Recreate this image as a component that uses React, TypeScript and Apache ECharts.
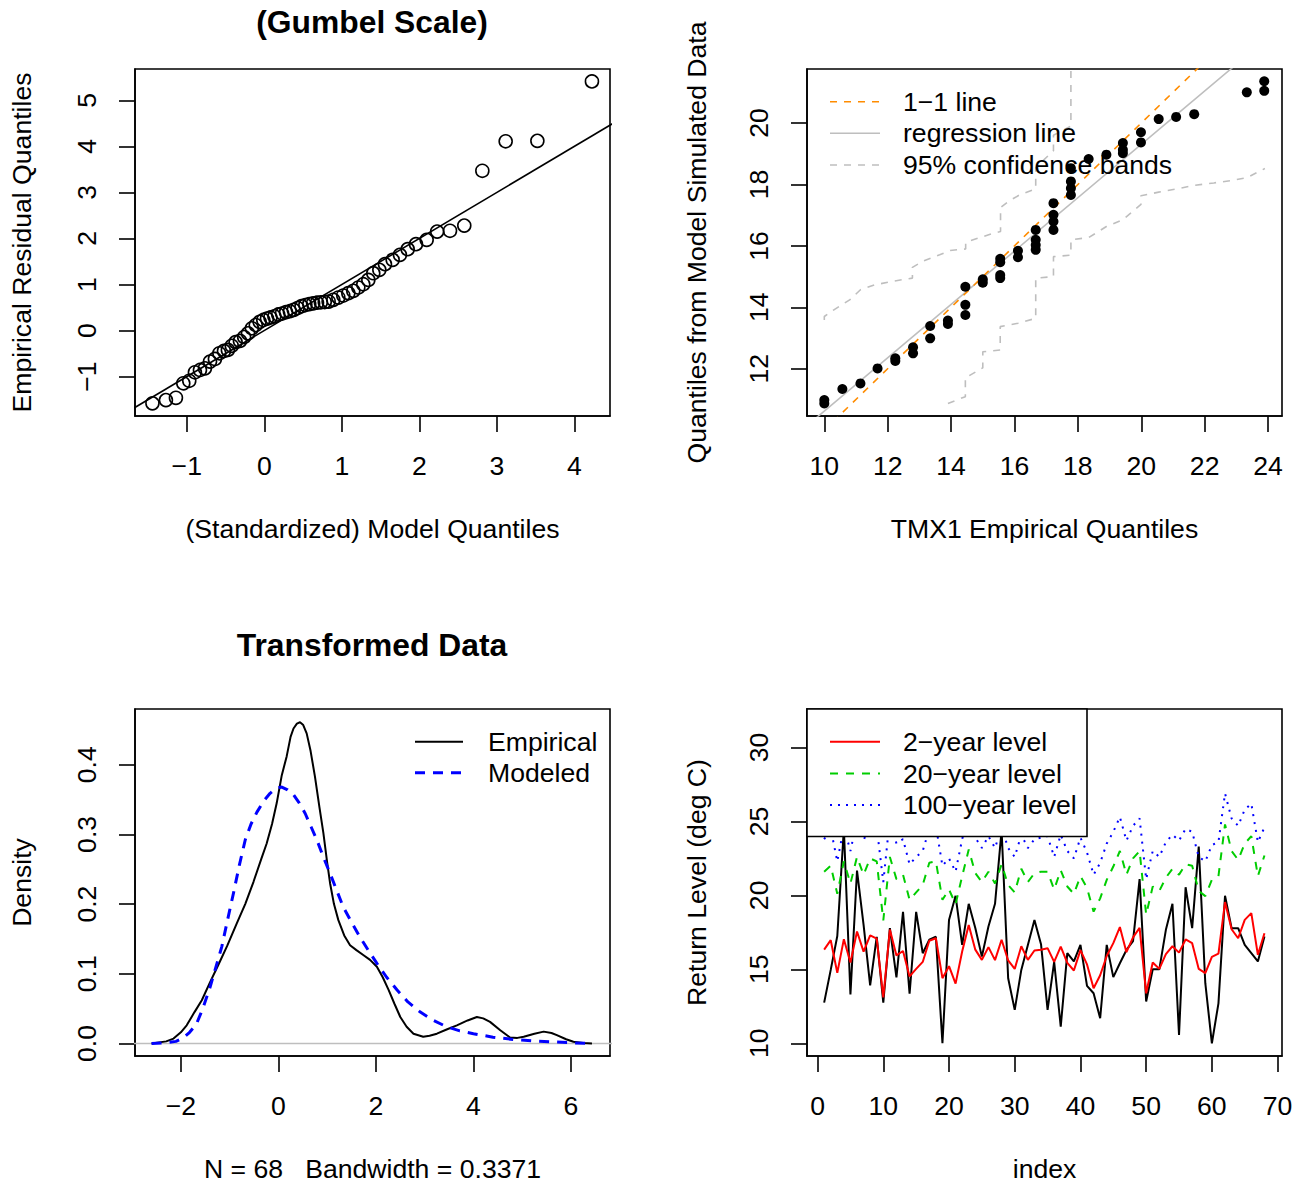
import React, { useEffect, useRef } from "react";
import * as echarts from "echarts";

const FONT = '"Liberation Sans", Arial, Helvetica, sans-serif';
const FS = 26.6;

// ---------- Panel 1: Gumbel-scale QQ plot ----------
const p1Ticks = { x: [-1, 0, 1, 2, 3, 4], y: [-1, 0, 1, 2, 3, 4, 5] };
const p1Range = { x: [-1.668, 4.46], y: [-1.855, 5.68] };
const modelQuantiles = [
  -1.443, -1.269, -1.14, -1.045, -0.968, -0.895, -0.83, -0.766, -0.7, -0.637, -0.58, -0.52,
  -0.47, -0.42, -0.37, -0.314, -0.26, -0.21, -0.16, -0.11, -0.06, -0.013,
  0.035, 0.08, 0.13, 0.18, 0.23, 0.28, 0.33, 0.38, 0.43, 0.48, 0.53, 0.58, 0.63, 0.68, 0.73, 0.78, 0.83,
  0.89, 0.955, 1.019, 1.084, 1.148, 1.213, 1.277, 1.342, 1.406,
  1.484, 1.557, 1.656, 1.75, 1.85, 1.957, 2.095, 2.23, 2.396, 2.58,
  2.813, 3.114, 3.523, 4.227,
];
const residualQuantiles = [
  -1.58, -1.51, -1.46, -1.145, -1.09, -0.906, -0.855, -0.82, -0.674, -0.616, -0.493, -0.442,
  -0.42, -0.33, -0.25, -0.225, -0.14, -0.06, 0.05, 0.12, 0.19, 0.23,
  0.26, 0.285, 0.31, 0.35, 0.37, 0.4, 0.42, 0.45, 0.49, 0.53, 0.555, 0.575, 0.59, 0.605, 0.615, 0.62, 0.63,
  0.667, 0.717, 0.761, 0.812, 0.862, 0.935, 1.007, 1.1, 1.246,
  1.319, 1.442, 1.536, 1.645, 1.768, 1.877, 1.97, 2.15, 2.167, 2.28,
  3.47, 4.11, 4.12, 5.41,
];

// ---------- Panel 2: TMX1 empirical vs model simulated ----------
const p2Ticks = { x: [10, 12, 14, 16, 18, 20, 22, 24], y: [12, 14, 16, 18, 20] };
const p2Range = { x: [9.454, 24.44], y: [10.46, 21.76] };
const empQ = [
  10.0, 10.0, 10.57, 11.14, 11.68, 12.24, 12.24, 12.8, 12.8, 13.34, 13.34, 13.9, 13.9,
  14.45, 14.45, 14.45, 15.0, 15.0, 15.55, 15.55, 15.55, 15.55, 16.11, 16.11,
  16.67, 16.67, 16.67, 16.67, 17.23, 17.23, 17.23, 17.23, 17.78, 17.78, 17.78, 17.78,
  18.34, 18.9, 19.42, 19.42, 19.42, 19.99, 19.99, 20.55, 21.1, 21.67, 23.33, 23.88, 23.88,
];
const simQ = [
  10.98, 10.87, 11.34, 11.52, 12.01, 12.34, 12.25, 12.7, 12.5, 13.39, 12.99, 13.57, 13.46,
  14.67, 14.08, 13.75, 14.91, 14.8, 15.58, 15.47, 15.05, 14.95, 15.84, 15.63,
  16.52, 16.2, 16.03, 15.87, 17.39, 17.01, 16.79, 16.52, 18.53, 18.1, 17.88, 17.66,
  18.83, 18.97, 19.35, 19.13, 19.02, 19.7, 19.37, 20.13, 20.2, 20.29, 21.0, 21.36, 21.05,
];
const oneToOne = [[9.0, 9.0], [25.0, 25.0]];
const regressionLine = [[9.0, 9.75], [25.0, 23.65]];
const upperBand = [
  [10.0, 13.59], [10.0, 13.7], [10.29, 13.91], [10.8, 14.24], [11.14, 14.57], [11.59, 14.73],
  [12.17, 14.85], [12.78, 14.95], [12.78, 15.3], [13.13, 15.51], [13.64, 15.71], [13.97, 15.85],
  [14.46, 15.9], [14.46, 16.12], [15.0, 16.3], [15.27, 16.39], [15.56, 16.47], [15.56, 17.25],
  [15.81, 17.45], [16.16, 17.66], [16.67, 17.86], [16.67, 18.55], [17.23, 19.1], [17.23, 19.6],
  [17.78, 19.9], [17.78, 23.0],
];
const lowerBand = [
  [13.9, 10.87], [14.45, 11.09], [14.45, 11.7], [15.0, 12.03], [15.0, 12.55], [15.55, 12.61],
  [15.55, 13.37], [16.11, 13.48], [16.67, 13.64], [16.67, 14.95], [17.23, 15.0], [17.23, 15.65],
  [17.78, 15.7], [17.78, 16.2], [18.34, 16.27], [18.9, 16.63], [19.42, 16.85], [19.99, 17.35],
  [19.99, 17.63], [20.55, 17.75], [21.1, 17.85], [21.65, 17.97], [22.29, 18.05], [22.8, 18.12],
  [23.33, 18.22], [23.9, 18.52],
];

// ---------- Panel 3: Transformed data densities ----------
const p3Ticks = { x: [-2, 0, 2, 4, 6], y: [0, 0.1, 0.2, 0.3, 0.4] };
const p3Range = { x: [-2.94, 6.8], y: [-0.018, 0.48] };
const empiricalDensity = [
  [-2.6, 0.0], [-2.3, 0.003], [-2.15, 0.007], [-2.0, 0.016], [-1.88, 0.026], [-1.72, 0.045],
  [-1.57, 0.062], [-1.4, 0.088], [-1.23, 0.113], [-1.05, 0.14], [-0.855, 0.172], [-0.68, 0.2],
  [-0.51, 0.232], [-0.35, 0.265], [-0.24, 0.287], [-0.13, 0.315], [-0.034, 0.345], [0.07, 0.385],
  [0.17, 0.412], [0.25, 0.44], [0.31, 0.452], [0.38, 0.459], [0.444, 0.461], [0.51, 0.457],
  [0.58, 0.445], [0.66, 0.42], [0.75, 0.383], [0.84, 0.34], [0.923, 0.302], [1.0, 0.26],
  [1.06, 0.23], [1.14, 0.2], [1.23, 0.177], [1.35, 0.155], [1.47, 0.141], [1.6, 0.134],
  [1.74, 0.127], [1.88, 0.12], [2.02, 0.11], [2.14, 0.095], [2.26, 0.077], [2.38, 0.057],
  [2.5, 0.038], [2.63, 0.024], [2.77, 0.014], [2.97, 0.0096], [3.1, 0.011], [3.25, 0.014],
  [3.45, 0.02], [3.66, 0.026], [3.88, 0.033], [4.07, 0.038], [4.2, 0.036], [4.34, 0.031],
  [4.55, 0.019], [4.75, 0.0086], [4.9, 0.008], [5.03, 0.0096], [5.25, 0.014], [5.44, 0.017],
  [5.6, 0.015], [5.71, 0.012], [5.9, 0.006], [6.05, 0.0024], [6.25, 0.0006], [6.43, 0.0],
];
const modeledDensity = [
  [-2.6, 0.0], [-2.3, 0.001], [-2.1, 0.003], [-1.95, 0.008], [-1.82, 0.016], [-1.68, 0.028],
  [-1.55, 0.05], [-1.4, 0.081], [-1.28, 0.11], [-1.16, 0.139], [-1.04, 0.178], [-0.92, 0.216],
  [-0.8, 0.256], [-0.68, 0.292], [-0.56, 0.315], [-0.44, 0.332], [-0.3, 0.348], [-0.17, 0.359],
  [-0.05, 0.366], [0.07, 0.368], [0.19, 0.364], [0.31, 0.357], [0.43, 0.345], [0.55, 0.33],
  [0.67, 0.311], [0.79, 0.292], [0.92, 0.268], [1.06, 0.244], [1.2, 0.219], [1.33, 0.196],
  [1.5, 0.174], [1.67, 0.153], [1.85, 0.133], [2.02, 0.115], [2.22, 0.095], [2.43, 0.077],
  [2.65, 0.06], [2.91, 0.045], [3.18, 0.033], [3.45, 0.024], [3.72, 0.018], [4.0, 0.014],
  [4.4, 0.009], [4.82, 0.0057], [5.2, 0.0037], [5.57, 0.0024], [6.0, 0.001], [6.43, 0.0],
];
const zeroLine = [[-4, 0], [8, 0]];

// ---------- Panel 4: return levels by index ----------
const p4Ticks = { x: [0, 10, 20, 30, 40, 50, 60, 70], y: [10, 15, 20, 25, 30] };
const p4Range = { x: [-1.61, 70.67], y: [9.14, 32.6] };
const observed = [
  12.75, 14.96, 17.25, 24.5, 13.3, 21.68, 18.0, 13.92, 17.2, 12.75,
  17.78, 14.45, 18.88, 13.35, 18.88, 16.09, 17.0, 17.2, 10.0, 18.34,
  19.97, 16.65, 19.43, 17.8, 15.86, 17.9, 19.43, 24.4, 14.4, 12.26,
  14.96, 16.65, 18.34, 16.7, 12.26, 15.5, 11.13, 16.09, 15.53, 16.65,
  13.88, 13.38, 11.69, 16.65, 14.47, 15.41, 16.31, 16.9, 21.1, 12.82,
  15.0, 15.0, 17.67, 19.43, 10.56, 20.55, 17.78, 23.3, 14.06, 10.0,
  12.7, 19.97, 17.78, 17.78, 16.65, 16.09, 15.53, 17.22,
];
const level2 = [
  16.33, 16.97, 14.76, 17.04, 15.46, 17.56, 16.2, 17.3, 17.07, 13.1,
  17.69, 15.94, 16.24, 14.52, 15.03, 15.5, 16.93, 17.1, 14.4, 15.21,
  14.03, 16.2, 18.0, 16.33, 15.64, 16.5, 15.62, 17.0, 15.6, 15.03,
  16.56, 15.64, 16.27, 16.33, 16.43, 15.5, 16.54, 15.43, 14.92, 16.3,
  15.33, 13.72, 14.6, 15.9, 16.77, 17.86, 16.16, 17.16, 17.8, 13.38,
  15.46, 15.03, 16.03, 16.56, 16.13, 17.02, 16.77, 15.03, 14.74, 15.84,
  16.06, 19.55, 17.71, 17.1, 18.34, 18.8, 15.98, 17.44,
];
const level20 = [
  21.6, 22.0, 20.1, 22.3, 20.8, 22.6, 21.4, 22.5, 22.3, 18.3,
  22.6, 21.1, 21.4, 19.7, 20.2, 20.7, 22.2, 22.3, 19.7, 20.4,
  19.4, 21.3, 23.1, 21.5, 20.9, 21.6, 20.8, 22.1, 20.7, 20.2,
  21.8, 20.9, 21.5, 21.6, 21.6, 20.4, 21.7, 20.6, 20.1, 21.3,
  20.5, 18.9, 19.8, 21.05, 21.95, 23.0, 21.4, 22.5, 23.0, 18.7,
  20.6, 20.3, 21.2, 21.8, 21.4, 22.1, 22.0, 20.3, 19.95, 21.05,
  21.3, 24.8, 23.0, 22.4, 23.5, 24.0, 21.3, 22.7,
];
const level100 = [
  23.8, 24.5, 22.3, 24.6, 23.0, 25.1, 23.7, 24.9, 24.6, 20.9,
  25.2, 23.5, 23.8, 22.1, 22.6, 23.0, 24.5, 24.7, 22.0, 22.5,
  21.6, 23.8, 25.6, 23.9, 23.2, 24.0, 23.2, 24.6, 23.2, 22.6,
  24.1, 23.2, 23.8, 23.9, 24.0, 22.6, 24.1, 23.0, 22.5, 23.9,
  22.9, 21.4, 22.2, 23.5, 24.3, 25.3, 23.7, 24.7, 25.2, 21.1,
  23.0, 22.6, 23.6, 24.1, 23.7, 24.5, 24.3, 22.6, 22.3, 23.4,
  23.6, 26.9, 25.2, 24.7, 25.8, 26.2, 23.6, 24.6,
];

const minus = (v: number) => String(v).replace("-", "\u2212");
const oneDec = (v: number) => v.toFixed(1);

const GRIDS = [
  { left: 135, top: 69, width: 475, height: 347 },
  { left: 807, top: 69, width: 475, height: 347 },
  { left: 135, top: 709, width: 475, height: 347 },
  { left: 807, top: 709, width: 475, height: 347 },
];

const textStyle = { fontSize: FS, color: "#000", fontFamily: FONT };

function xAx(gi: number, range: number[], ticks: number[], name: string, gap: number, f = minus) {
  return {
    type: "value", gridIndex: gi, min: range[0], max: range[1], position: "bottom",
    axisLine: { show: true, onZero: false, lineStyle: { color: "#000", width: 1.6 } },
    axisTick: { show: true, inside: false, length: 16, customValues: ticks, lineStyle: { color: "#000", width: 1.6 } },
    axisLabel: { show: true, customValues: ticks, margin: 36, formatter: f, ...textStyle },
    splitLine: { show: false },
    name, nameLocation: "middle", nameGap: gap, nameTextStyle: textStyle,
  };
}
function yAx(gi: number, range: number[], ticks: number[], name: string, gap: number, f = minus) {
  return {
    type: "value", gridIndex: gi, min: range[0], max: range[1], position: "left",
    axisLine: { show: true, onZero: false, lineStyle: { color: "#000", width: 1.6 } },
    axisTick: { show: true, inside: false, length: 16, customValues: ticks, lineStyle: { color: "#000", width: 1.6 } },
    axisLabel: { show: true, customValues: ticks, margin: 35, rotate: 90, formatter: f, ...textStyle },
    splitLine: { show: false },
    name, nameLocation: "middle", nameGap: gap, nameRotate: 90, nameTextStyle: textStyle,
  };
}

function lineS(gi: number, data: number[][], color: string, width: number, type: any, z = 2) {
  return {
    type: "line", xAxisIndex: gi, yAxisIndex: gi, data, symbol: "none", silent: true, z,
    lineStyle: { color, width, type }, clip: true,
  };
}

function legendItems(x1: number, x2: number, tx: number, ys: number[], items: any[]) {
  const out: any[] = [];
  items.forEach((it, k) => {
    out.push({
      type: "line", z: 101, silent: true,
      shape: { x1, y1: ys[k], x2, y2: ys[k] },
      style: { stroke: it.color, lineWidth: it.width, lineDash: it.dash || null },
    });
    out.push({
      type: "text", z: 101, silent: true, x: tx, y: ys[k],
      style: { text: it.label, fill: "#000", font: `${FS}px ${FONT}`, textVerticalAlign: "middle", verticalAlign: "middle" },
    });
  });
  return out;
}

export default function App() {
  const ref = useRef<HTMLDivElement>(null);
  useEffect(() => {
    if (!ref.current) return;
    const chart = echarts.init(ref.current, null, { renderer: "svg" });
    const idx = observed.map((_, k) => k + 1);
    const qq1 = modelQuantiles.map((x, k) => [x, residualQuantiles[k]]);
    const qq2 = empQ.map((x, k) => [x, simQ[k]]);
    const diag1 = [[p1Range.x[0] - 1, p1Range.x[0] - 1], [p1Range.x[1] + 1, p1Range.x[1] + 1]];
    const option: any = {
      animation: false,
      backgroundColor: "#fff",
      grid: GRIDS.map((g) => ({ ...g, show: true, borderColor: "#000", borderWidth: 1.6, backgroundColor: "transparent" })),
      xAxis: [
        xAx(0, p1Range.x, p1Ticks.x, "(Standardized) Model Quantiles", 99),
        xAx(1, p2Range.x, p2Ticks.x, "TMX1 Empirical Quantiles", 99),
        xAx(2, p3Range.x, p3Ticks.x, "N = 68   Bandwidth = 0.3371", 99),
        xAx(3, p4Range.x, p4Ticks.x, "index", 99),
      ],
      yAxis: [
        yAx(0, p1Range.y, p1Ticks.y, "Empirical Residual Quantiles", 100),
        yAx(1, p2Range.y, p2Ticks.y, "Quantiles from Model Simulated Data", 97),
        yAx(2, p3Range.y, p3Ticks.y, "Density", 100, oneDec),
        yAx(3, p4Range.y, p4Ticks.y, "Return Level (deg C)", 97),
      ],
      series: [
        // panel 1
        lineS(0, diag1, "#000", 1.6, "solid"),
        {
          type: "scatter", xAxisIndex: 0, yAxisIndex: 0, data: qq1, symbol: "circle", symbolSize: 13, silent: true,
          itemStyle: { color: "rgba(0,0,0,0)", borderColor: "#000", borderWidth: 1.6, opacity: 1 }, z: 3,
        },
        // panel 2
        lineS(1, upperBand, "#BEBEBE", 1.6, [7, 7]),
        lineS(1, lowerBand, "#BEBEBE", 1.6, [7, 7]),
        lineS(1, regressionLine, "#BEBEBE", 1.6, "solid"),
        lineS(1, oneToOne, "#FF8C00", 1.6, [7, 7]),
        {
          type: "scatter", xAxisIndex: 1, yAxisIndex: 1, data: qq2, symbol: "circle", symbolSize: 10, silent: true,
          itemStyle: { color: "#000", opacity: 1 }, z: 3,
        },
        // panel 3
        lineS(2, zeroLine, "#BEBEBE", 1.6, "solid"),
        lineS(2, empiricalDensity, "#000", 2, "solid"),
        lineS(2, modeledDensity, "#0000FF", 3, [10, 8]),
        // panel 4
        lineS(3, idx.map((i, k) => [i, observed[k]]), "#000", 2, "solid"),
        lineS(3, idx.map((i, k) => [i, level2[k]]), "#FF0000", 2, "solid"),
        lineS(3, idx.map((i, k) => [i, level20[k]]), "#00CD00", 2, [8, 8]),
        lineS(3, idx.map((i, k) => [i, level100[k]]), "#0000FF", 2, [2, 6]),
      ],
      graphic: [
        {
          type: "text", z: 100, x: 372, y: 22, silent: true,
          style: { text: "(Gumbel Scale)", fill: "#000", font: `bold 31.8px ${FONT}`, textAlign: "center", textVerticalAlign: "middle", align: "center", verticalAlign: "middle" },
        },
        {
          type: "text", z: 100, x: 372, y: 645, silent: true,
          style: { text: "Transformed Data", fill: "#000", font: `bold 31.8px ${FONT}`, textAlign: "center", textVerticalAlign: "middle", align: "center", verticalAlign: "middle" },
        },
        ...legendItems(830, 880, 903, [101.7, 133.3, 165], [
          { label: "1\u22121 line", color: "#FF8C00", width: 1.6, dash: [7, 7] },
          { label: "regression line", color: "#BEBEBE", width: 1.6 },
          { label: "95% confidence bands", color: "#BEBEBE", width: 1.6, dash: [7, 7] },
        ]),
        ...legendItems(415, 463, 488, [741.7, 772.7], [
          { label: "Empirical", color: "#000", width: 2 },
          { label: "Modeled", color: "#0000FF", width: 3, dash: [10, 8] },
        ]),
        {
          type: "rect", z: 100, silent: true,
          shape: { x: 807, y: 709, width: 280, height: 127.5 },
          style: { fill: "#fff", stroke: "#000", lineWidth: 1.6 },
        },
        ...legendItems(830, 880, 903, [741.7, 773.5, 805], [
          { label: "2\u2212year level", color: "#FF0000", width: 2 },
          { label: "20\u2212year level", color: "#00CD00", width: 2, dash: [8, 8] },
          { label: "100\u2212year level", color: "#0000FF", width: 2, dash: [2, 6] },
        ]),
      ],
    };
    chart.setOption(option);
    return () => chart.dispose();
  }, []);
  return <div ref={ref} style={{ position: "absolute", left: 0, top: 0, width: 1310, height: 1185, background: "#fff" }} />;
}
